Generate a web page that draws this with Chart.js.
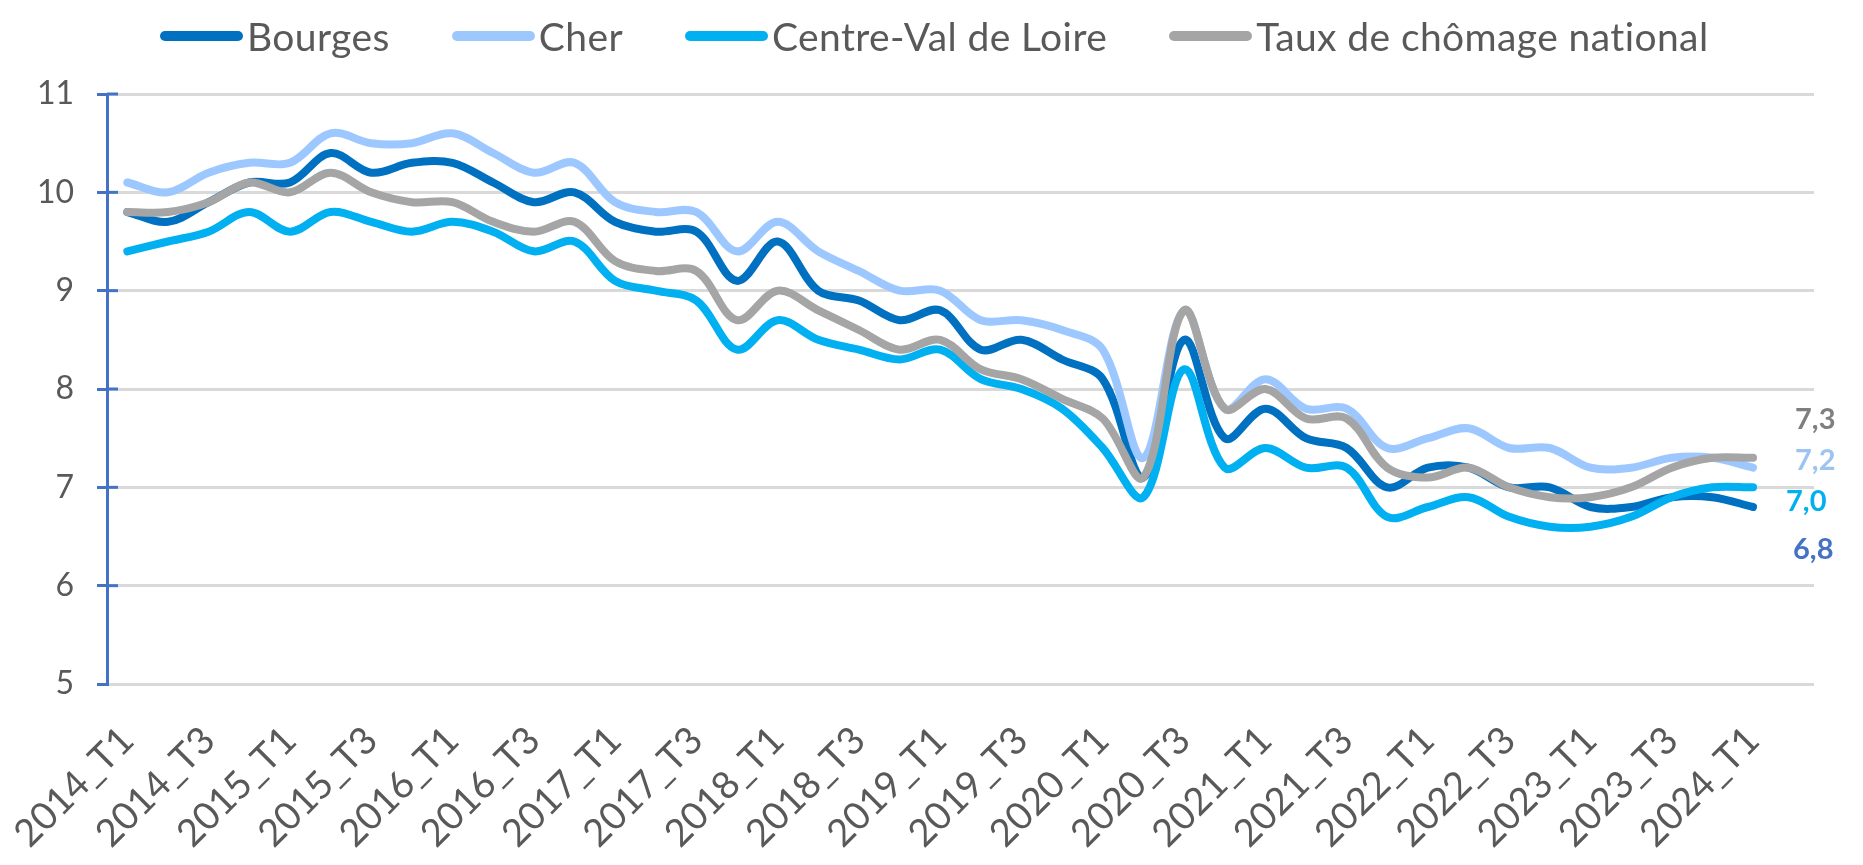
<!DOCTYPE html>
<html lang="fr">
<head>
<meta charset="utf-8">
<title>Taux de chômage - Bourges, Cher, Centre-Val de Loire</title>
<script src="https://cdn.jsdelivr.net/npm/chart.js@4.4.1/dist/chart.umd.min.js"></script>
<style>
  body { margin: 0; background: #fff; font-family: Lato, sans-serif; }
  #cadre { position: relative; width: 1863px; height: 865px; }
  #legende { position: absolute; top: 12px; left: 160px; display: flex; align-items: center; z-index: 2; }
  .item { display: flex; align-items: center; margin-right: 62px; font-size: 39px; letter-spacing: 0.4px; color: #595959; line-height: 48px; }
  .trait { width: 83px; height: 10px; border-radius: 5px; margin-right: 4px; }
</style>
</head>
<body>
<div id="cadre">
  <div id="legende"></div>
  <canvas id="grafico"></canvas>
</div>
<script>
let grafico; // variável global do gráfico

// Trimestres (la dernière catégorie est vide, comme dans le graphique Excel)
const trimestres = [
  "2014_T1", "2014_T2", "2014_T3", "2014_T4",
  "2015_T1", "2015_T2", "2015_T3", "2015_T4",
  "2016_T1", "2016_T2", "2016_T3", "2016_T4",
  "2017_T1", "2017_T2", "2017_T3", "2017_T4",
  "2018_T1", "2018_T2", "2018_T3", "2018_T4",
  "2019_T1", "2019_T2", "2019_T3", "2019_T4",
  "2020_T1", "2020_T2", "2020_T3", "2020_T4",
  "2021_T1", "2021_T2", "2021_T3", "2021_T4",
  "2022_T1", "2022_T2", "2022_T3", "2022_T4",
  "2023_T1", "2023_T2", "2023_T3", "2023_T4",
  "2024_T1", "2024_T2"
];

const bourges = [
  9.8, 9.7, 9.9, 10.1, 10.1, 10.4, 10.2, 10.3, 10.3, 10.1,
  9.9, 10.0, 9.7, 9.6, 9.6, 9.1, 9.5, 9.0, 8.9, 8.7,
  8.8, 8.4, 8.5, 8.3, 8.1, 7.1, 8.5, 7.5, 7.8, 7.5,
  7.4, 7.0, 7.2, 7.2, 7.0, 7.0, 6.8, 6.8, 6.9, 6.9,
  6.8, null
];

const cher = [
  10.1, 10.0, 10.2, 10.3, 10.3, 10.6, 10.5, 10.5, 10.6, 10.4,
  10.2, 10.3, 9.9, 9.8, 9.8, 9.4, 9.7, 9.4, 9.2, 9.0,
  9.0, 8.7, 8.7, 8.6, 8.4, 7.3, 8.8, 7.8, 8.1, 7.8,
  7.8, 7.4, 7.5, 7.6, 7.4, 7.4, 7.2, 7.2, 7.3, 7.3,
  7.2, null
];

const centreVdl = [
  9.4, 9.5, 9.6, 9.8, 9.6, 9.8, 9.7, 9.6, 9.7, 9.6,
  9.4, 9.5, 9.1, 9.0, 8.9, 8.4, 8.7, 8.5, 8.4, 8.3,
  8.4, 8.1, 8.0, 7.8, 7.4, 6.9, 8.2, 7.2, 7.4, 7.2,
  7.2, 6.7, 6.8, 6.9, 6.7, 6.6, 6.6, 6.7, 6.9, 7.0,
  7.0, null
];

const national = [
  9.8, 9.8, 9.9, 10.1, 10.0, 10.2, 10.0, 9.9, 9.9, 9.7,
  9.6, 9.7, 9.3, 9.2, 9.2, 8.7, 9.0, 8.8, 8.6, 8.4,
  8.5, 8.2, 8.1, 7.9, 7.7, 7.1, 8.8, 7.8, 8.0, 7.7,
  7.7, 7.2, 7.1, 7.2, 7.0, 6.9, 6.9, 7.0, 7.2, 7.3,
  7.3, null
];

const nomsSeries = ["Bourges", "Cher", "Centre-Val de Loire", "Taux de chômage national"];
const valeursSeries = [bourges, cher, centreVdl, national];
const couleurs = ["#0070C0", "#9DC8FF", "#00B0F0", "#A5A5A5"];
const couleursEtiquettes = ["#4472C4", "#9DC3F2", "#00B0F0", "#7F7F7F"];
// décalage des étiquettes de fin (par rapport au dernier point)
const decalages = [[40, 43], [42, -7], [33, 14], [42, -38]];

// Légende en HTML
const legende = document.getElementById("legende");
nomsSeries.forEach((nom, i) => {
  const item = document.createElement("div");
  item.className = "item";
  item.innerHTML = `<span class="trait" style="background:${couleurs[i]}"></span><span>${nom}</span>`;
  legende.appendChild(item);
});

// Étiquettes de la dernière valeur + graduations croisées de l'axe vertical
const pluginEtiquettes = {
  id: "etiquettes",
  afterDraw(chart) {
    const c = chart.ctx;
    const y = chart.scales.y;
    c.save();
    c.strokeStyle = "#4472C4";
    c.lineWidth = 3;
    y.ticks.forEach(t => {
      if (t.value === y.min) return;
      const py = y.getPixelForValue(t.value);
      c.beginPath();
      c.moveTo(chart.chartArea.left, py);
      c.lineTo(chart.chartArea.left + 11, py);
      c.stroke();
    });

    c.font = "bold 29px Lato";
    c.textAlign = "left";
    c.textBaseline = "middle";
    chart.data.datasets.forEach((ds, i) => {
      const meta = chart.getDatasetMeta(i);
      let k = ds.data.length - 1;
      while (k >= 0 && ds.data[k] === null) k--;
      const pt = meta.data[k];
      c.fillStyle = couleursEtiquettes[i];
      c.fillText(ds.data[k].toFixed(1).replace(".", ","), pt.x + decalages[i][0], pt.y + decalages[i][1]);
    });
    c.restore();
  }
};

const ctx = document.getElementById("grafico").getContext("2d");
grafico = new Chart(ctx, {
  type: "line",
  data: {
    labels: trimestres,
    datasets: nomsSeries.map((nom, i) => ({
      label: nom,
      data: valeursSeries[i],
      borderColor: couleurs[i],
      backgroundColor: couleurs[i],
      borderWidth: 8,
      pointRadius: 0,
      tension: 0.35,
      fill: false,
      order: 4 - i // la série nationale au premier plan
    }))
  },
  options: {
    responsive: true,
    maintainAspectRatio: false,
    animation: false,
    layout: { padding: { top: 94, right: 49, bottom: 0, left: 0 } },
    plugins: {
      legend: { display: false },
      tooltip: { enabled: false }
    },
    elements: {
      line: { borderCapStyle: "round", borderJoinStyle: "round" }
    },
    scales: {
      x: {
        offset: true,
        grid: { display: false, drawTicks: false },
        border: { display: false },
        ticks: {
          autoSkip: false,
          maxRotation: 45,
          minRotation: 45,
          padding: 34,
          color: "#595959",
          font: { family: "Lato", size: 38 },
          callback: (v, i) => (i % 2 === 0 ? trimestres[i] : "")
        },
        afterFit: s => {
          s.height = 181;
          s.paddingLeft = 0; // les étiquettes inclinées peuvent déborder à gauche
          s.paddingRight = 0;
        }
      },
      y: {
        min: 5,
        max: 11,
        ticks: {
          stepSize: 1,
          padding: 23,
          color: "#595959",
          font: { family: "Lato", size: 32 }
        },
        grid: {
          color: "#D9D9D9",
          lineWidth: 3,
          tickColor: "#4472C4",
          tickLength: 10,
          tickWidth: 3
        },
        border: { color: "#4472C4", width: 3 },
        afterFit: s => { s.width = 107; }
      }
    }
  },
  plugins: [pluginEtiquettes]
});
</script>
</body>
</html>
